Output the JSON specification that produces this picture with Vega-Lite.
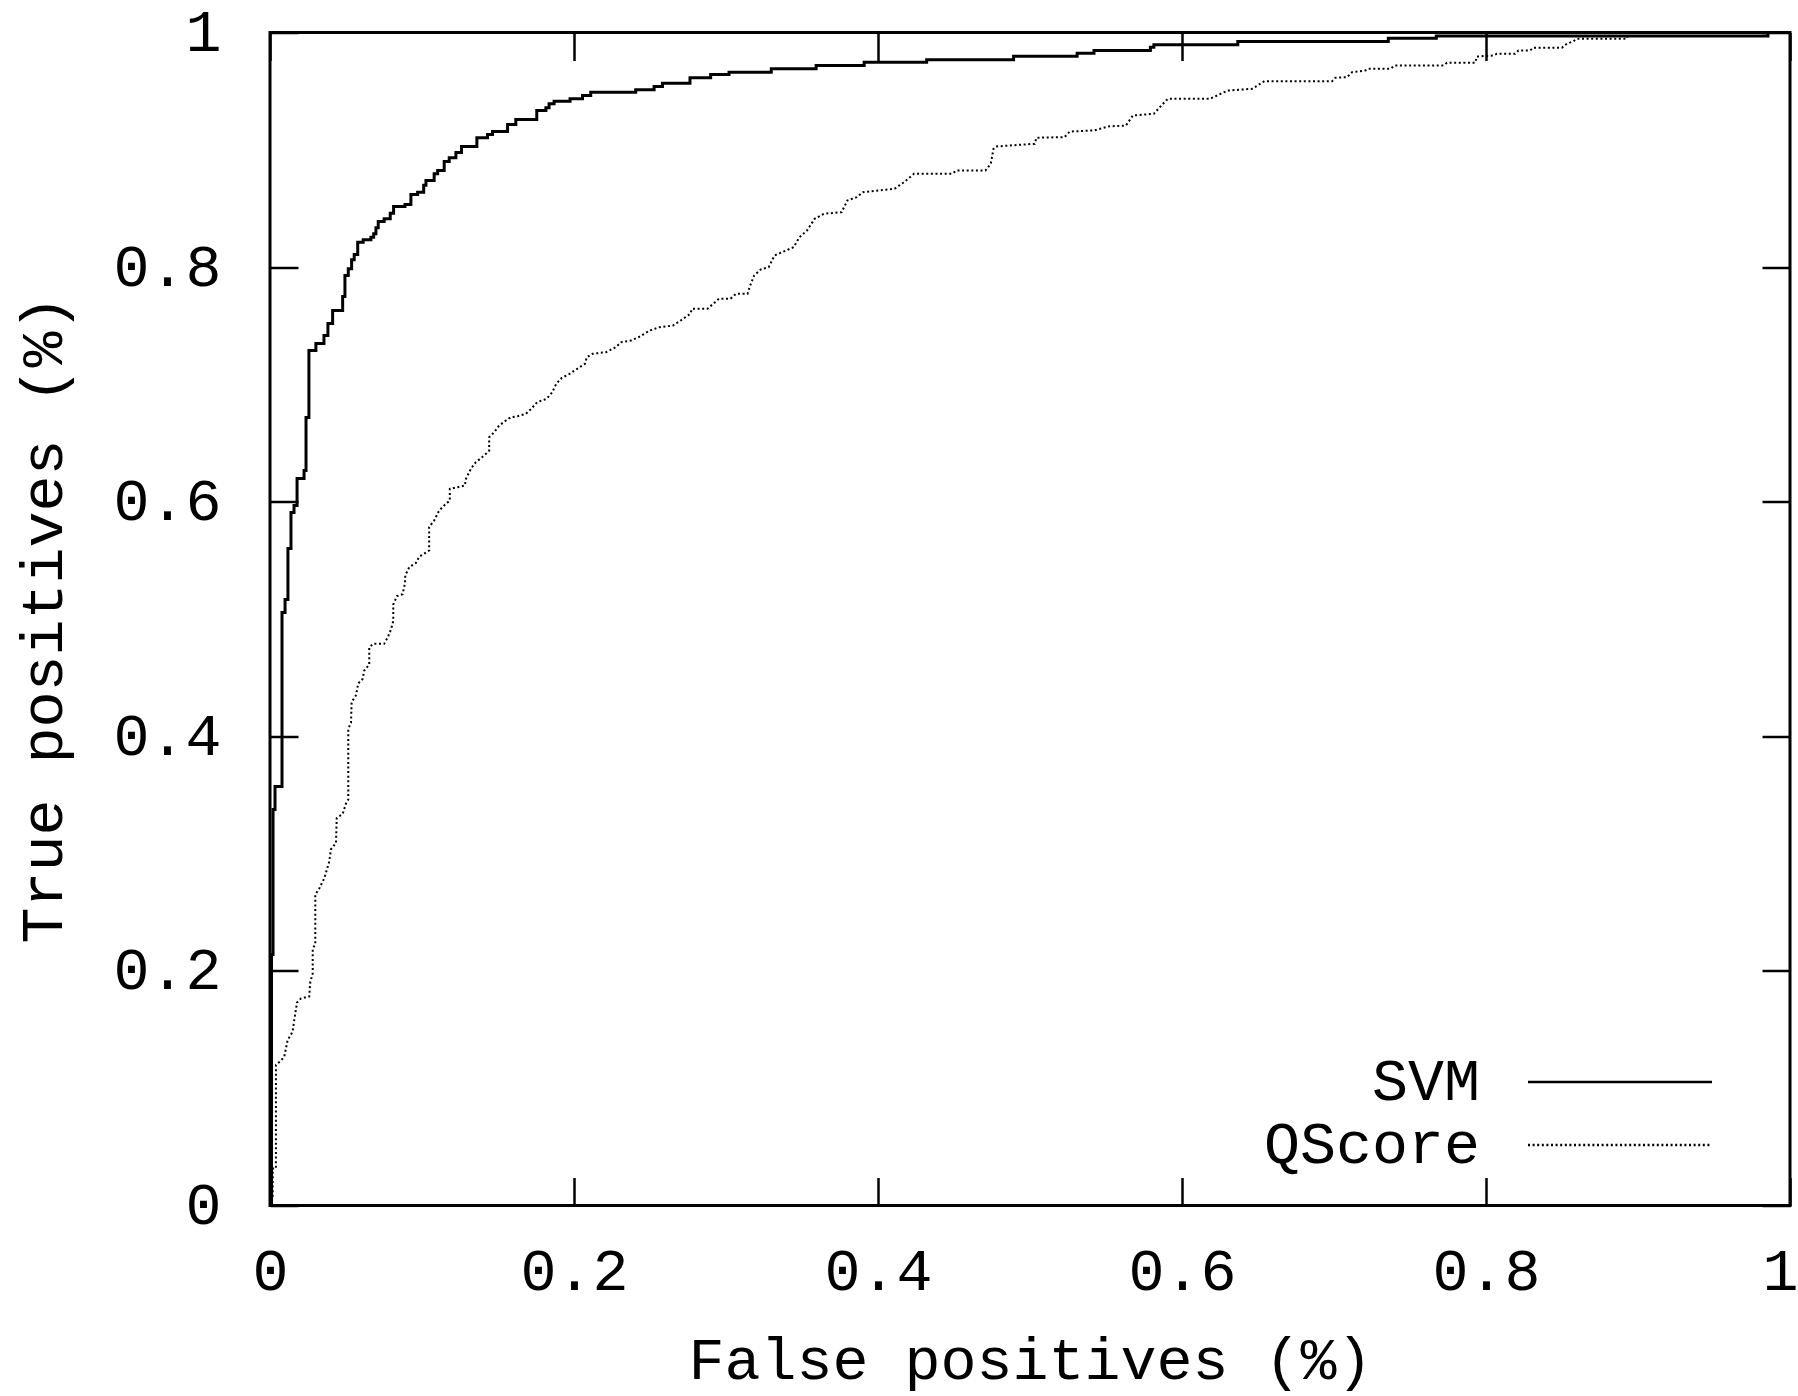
{
  "$schema": "https://vega.github.io/schema/vega-lite/v6.json",
  "width": 1520,
  "height": 1173,
  "autosize": {"type": "none"},
  "padding": {"left": 270, "top": 32.5, "right": 8, "bottom": 190.5},
  "background": "white",
  "config": {
    "view": {"stroke": "black", "strokeWidth": 3},
    "font": "Liberation Mono"
  },
  "data": {
    "values": [
      {"series": "SVM", "fp": 0, "tp": 0},
      {"series": "SVM", "fp": 0.001, "tp": 0.214},
      {"series": "SVM", "fp": 0.002, "tp": 0.3376},
      {"series": "SVM", "fp": 0.0033, "tp": 0.3572},
      {"series": "SVM", "fp": 0.0079, "tp": 0.5055},
      {"series": "SVM", "fp": 0.0099, "tp": 0.5166},
      {"series": "SVM", "fp": 0.0118, "tp": 0.5601},
      {"series": "SVM", "fp": 0.0138, "tp": 0.5908},
      {"series": "SVM", "fp": 0.0158, "tp": 0.5968},
      {"series": "SVM", "fp": 0.0178, "tp": 0.6198},
      {"series": "SVM", "fp": 0.0224, "tp": 0.6266},
      {"series": "SVM", "fp": 0.0237, "tp": 0.6718},
      {"series": "SVM", "fp": 0.0256, "tp": 0.7289},
      {"series": "SVM", "fp": 0.0302, "tp": 0.7349},
      {"series": "SVM", "fp": 0.0355, "tp": 0.7417},
      {"series": "SVM", "fp": 0.0381, "tp": 0.7519},
      {"series": "SVM", "fp": 0.0412, "tp": 0.763},
      {"series": "SVM", "fp": 0.0478, "tp": 0.7749},
      {"series": "SVM", "fp": 0.0493, "tp": 0.7928},
      {"series": "SVM", "fp": 0.0515, "tp": 0.7986},
      {"series": "SVM", "fp": 0.0537, "tp": 0.8062},
      {"series": "SVM", "fp": 0.0554, "tp": 0.8107},
      {"series": "SVM", "fp": 0.0577, "tp": 0.8212},
      {"series": "SVM", "fp": 0.0613, "tp": 0.8233},
      {"series": "SVM", "fp": 0.0664, "tp": 0.8255},
      {"series": "SVM", "fp": 0.0682, "tp": 0.8284},
      {"series": "SVM", "fp": 0.0697, "tp": 0.8335},
      {"series": "SVM", "fp": 0.0712, "tp": 0.8389},
      {"series": "SVM", "fp": 0.0751, "tp": 0.8412},
      {"series": "SVM", "fp": 0.0791, "tp": 0.846},
      {"series": "SVM", "fp": 0.0813, "tp": 0.8517},
      {"series": "SVM", "fp": 0.0888, "tp": 0.8534},
      {"series": "SVM", "fp": 0.0927, "tp": 0.8619},
      {"series": "SVM", "fp": 0.0971, "tp": 0.8639},
      {"series": "SVM", "fp": 0.1011, "tp": 0.8698},
      {"series": "SVM", "fp": 0.1026, "tp": 0.8738},
      {"series": "SVM", "fp": 0.108, "tp": 0.8795},
      {"series": "SVM", "fp": 0.1103, "tp": 0.8824},
      {"series": "SVM", "fp": 0.1146, "tp": 0.89},
      {"series": "SVM", "fp": 0.1179, "tp": 0.8932},
      {"series": "SVM", "fp": 0.1223, "tp": 0.8977},
      {"series": "SVM", "fp": 0.126, "tp": 0.9028},
      {"series": "SVM", "fp": 0.1361, "tp": 0.9102},
      {"series": "SVM", "fp": 0.1431, "tp": 0.913},
      {"series": "SVM", "fp": 0.1464, "tp": 0.9156},
      {"series": "SVM", "fp": 0.1563, "tp": 0.9216},
      {"series": "SVM", "fp": 0.1617, "tp": 0.9258},
      {"series": "SVM", "fp": 0.1755, "tp": 0.9335},
      {"series": "SVM", "fp": 0.1815, "tp": 0.9358},
      {"series": "SVM", "fp": 0.1836, "tp": 0.9392},
      {"series": "SVM", "fp": 0.1869, "tp": 0.9414},
      {"series": "SVM", "fp": 0.1974, "tp": 0.9435},
      {"series": "SVM", "fp": 0.2056, "tp": 0.9463},
      {"series": "SVM", "fp": 0.211, "tp": 0.9491},
      {"series": "SVM", "fp": 0.2406, "tp": 0.9511},
      {"series": "SVM", "fp": 0.2527, "tp": 0.954},
      {"series": "SVM", "fp": 0.2582, "tp": 0.9568},
      {"series": "SVM", "fp": 0.2763, "tp": 0.9614},
      {"series": "SVM", "fp": 0.2899, "tp": 0.9642},
      {"series": "SVM", "fp": 0.302, "tp": 0.9662},
      {"series": "SVM", "fp": 0.3298, "tp": 0.9691},
      {"series": "SVM", "fp": 0.3593, "tp": 0.9719},
      {"series": "SVM", "fp": 0.3909, "tp": 0.9747},
      {"series": "SVM", "fp": 0.432, "tp": 0.9767},
      {"series": "SVM", "fp": 0.4892, "tp": 0.9798},
      {"series": "SVM", "fp": 0.531, "tp": 0.9824},
      {"series": "SVM", "fp": 0.5421, "tp": 0.9847},
      {"series": "SVM", "fp": 0.5792, "tp": 0.9875},
      {"series": "SVM", "fp": 0.5815, "tp": 0.9895},
      {"series": "SVM", "fp": 0.6367, "tp": 0.9923},
      {"series": "SVM", "fp": 0.7357, "tp": 0.9951},
      {"series": "SVM", "fp": 0.7673, "tp": 0.997},
      {"series": "SVM", "fp": 0.9855, "tp": 1},
      {"series": "SVM", "fp": 1, "tp": 1},
      {"series": "QScore", "fp": 0, "tp": 0},
      {"series": "QScore", "fp": 0.0018, "tp": 0.0068},
      {"series": "QScore", "fp": 0.0018, "tp": 0.0315},
      {"series": "QScore", "fp": 0.0039, "tp": 0.0315},
      {"series": "QScore", "fp": 0.0039, "tp": 0.1198},
      {"series": "QScore", "fp": 0.0072, "tp": 0.1236},
      {"series": "QScore", "fp": 0.0094, "tp": 0.127},
      {"series": "QScore", "fp": 0.0116, "tp": 0.141},
      {"series": "QScore", "fp": 0.0149, "tp": 0.1483},
      {"series": "QScore", "fp": 0.016, "tp": 0.1586},
      {"series": "QScore", "fp": 0.0178, "tp": 0.1731},
      {"series": "QScore", "fp": 0.0204, "tp": 0.1765},
      {"series": "QScore", "fp": 0.0258, "tp": 0.1782},
      {"series": "QScore", "fp": 0.0265, "tp": 0.1905},
      {"series": "QScore", "fp": 0.0281, "tp": 0.1978},
      {"series": "QScore", "fp": 0.0281, "tp": 0.2191},
      {"series": "QScore", "fp": 0.0298, "tp": 0.2225},
      {"series": "QScore", "fp": 0.0298, "tp": 0.2651},
      {"series": "QScore", "fp": 0.0324, "tp": 0.2702},
      {"series": "QScore", "fp": 0.0357, "tp": 0.2789},
      {"series": "QScore", "fp": 0.039, "tp": 0.2933},
      {"series": "QScore", "fp": 0.0401, "tp": 0.3037},
      {"series": "QScore", "fp": 0.0434, "tp": 0.309},
      {"series": "QScore", "fp": 0.0439, "tp": 0.3303},
      {"series": "QScore", "fp": 0.0478, "tp": 0.3338},
      {"series": "QScore", "fp": 0.05, "tp": 0.3427},
      {"series": "QScore", "fp": 0.0515, "tp": 0.3461},
      {"series": "QScore", "fp": 0.0515, "tp": 0.4063},
      {"series": "QScore", "fp": 0.0533, "tp": 0.4118},
      {"series": "QScore", "fp": 0.0537, "tp": 0.4292},
      {"series": "QScore", "fp": 0.0565, "tp": 0.4348},
      {"series": "QScore", "fp": 0.0581, "tp": 0.4452},
      {"series": "QScore", "fp": 0.0609, "tp": 0.4488},
      {"series": "QScore", "fp": 0.062, "tp": 0.4561},
      {"series": "QScore", "fp": 0.0653, "tp": 0.4612},
      {"series": "QScore", "fp": 0.0653, "tp": 0.4753},
      {"series": "QScore", "fp": 0.0675, "tp": 0.4788},
      {"series": "QScore", "fp": 0.0751, "tp": 0.4788},
      {"series": "QScore", "fp": 0.0774, "tp": 0.4842},
      {"series": "QScore", "fp": 0.0796, "tp": 0.4911},
      {"series": "QScore", "fp": 0.0811, "tp": 0.4983},
      {"series": "QScore", "fp": 0.0811, "tp": 0.5124},
      {"series": "QScore", "fp": 0.0835, "tp": 0.5195},
      {"series": "QScore", "fp": 0.0872, "tp": 0.5212},
      {"series": "QScore", "fp": 0.0888, "tp": 0.5303},
      {"series": "QScore", "fp": 0.089, "tp": 0.5371},
      {"series": "QScore", "fp": 0.0916, "tp": 0.5442},
      {"series": "QScore", "fp": 0.096, "tp": 0.5478},
      {"series": "QScore", "fp": 0.0982, "tp": 0.5531},
      {"series": "QScore", "fp": 0.1047, "tp": 0.5584},
      {"series": "QScore", "fp": 0.1047, "tp": 0.5783},
      {"series": "QScore", "fp": 0.108, "tp": 0.584},
      {"series": "QScore", "fp": 0.1113, "tp": 0.5925},
      {"series": "QScore", "fp": 0.1146, "tp": 0.5968},
      {"series": "QScore", "fp": 0.1183, "tp": 0.601},
      {"series": "QScore", "fp": 0.1183, "tp": 0.611},
      {"series": "QScore", "fp": 0.1234, "tp": 0.6124},
      {"series": "QScore", "fp": 0.1282, "tp": 0.6138},
      {"series": "QScore", "fp": 0.1289, "tp": 0.6195},
      {"series": "QScore", "fp": 0.1322, "tp": 0.6281},
      {"series": "QScore", "fp": 0.1354, "tp": 0.6337},
      {"series": "QScore", "fp": 0.1409, "tp": 0.6394},
      {"series": "QScore", "fp": 0.1442, "tp": 0.6436},
      {"series": "QScore", "fp": 0.1442, "tp": 0.655},
      {"series": "QScore", "fp": 0.1475, "tp": 0.6592},
      {"series": "QScore", "fp": 0.1508, "tp": 0.665},
      {"series": "QScore", "fp": 0.1552, "tp": 0.6692},
      {"series": "QScore", "fp": 0.1584, "tp": 0.672},
      {"series": "QScore", "fp": 0.1629, "tp": 0.6729},
      {"series": "QScore", "fp": 0.1683, "tp": 0.6749},
      {"series": "QScore", "fp": 0.1719, "tp": 0.6792},
      {"series": "QScore", "fp": 0.1757, "tp": 0.6848},
      {"series": "QScore", "fp": 0.182, "tp": 0.6877},
      {"series": "QScore", "fp": 0.1857, "tp": 0.6933},
      {"series": "QScore", "fp": 0.1883, "tp": 0.7005},
      {"series": "QScore", "fp": 0.192, "tp": 0.7056},
      {"series": "QScore", "fp": 0.1971, "tp": 0.709},
      {"series": "QScore", "fp": 0.2021, "tp": 0.7133},
      {"series": "QScore", "fp": 0.2072, "tp": 0.7176},
      {"series": "QScore", "fp": 0.2084, "tp": 0.7232},
      {"series": "QScore", "fp": 0.2122, "tp": 0.7261},
      {"series": "QScore", "fp": 0.221, "tp": 0.7274},
      {"series": "QScore", "fp": 0.2274, "tp": 0.7317},
      {"series": "QScore", "fp": 0.2311, "tp": 0.736},
      {"series": "QScore", "fp": 0.2374, "tp": 0.7374},
      {"series": "QScore", "fp": 0.2424, "tp": 0.7402},
      {"series": "QScore", "fp": 0.25, "tp": 0.746},
      {"series": "QScore", "fp": 0.2563, "tp": 0.7488},
      {"series": "QScore", "fp": 0.2651, "tp": 0.7502},
      {"series": "QScore", "fp": 0.2702, "tp": 0.7545},
      {"series": "QScore", "fp": 0.2765, "tp": 0.7602},
      {"series": "QScore", "fp": 0.2777, "tp": 0.7645},
      {"series": "QScore", "fp": 0.2878, "tp": 0.7645},
      {"series": "QScore", "fp": 0.2928, "tp": 0.7701},
      {"series": "QScore", "fp": 0.2953, "tp": 0.773},
      {"series": "QScore", "fp": 0.3029, "tp": 0.773},
      {"series": "QScore", "fp": 0.3066, "tp": 0.7772},
      {"series": "QScore", "fp": 0.3142, "tp": 0.7772},
      {"series": "QScore", "fp": 0.3155, "tp": 0.7829},
      {"series": "QScore", "fp": 0.3185, "tp": 0.7928},
      {"series": "QScore", "fp": 0.323, "tp": 0.7981},
      {"series": "QScore", "fp": 0.3281, "tp": 0.8},
      {"series": "QScore", "fp": 0.3319, "tp": 0.8099},
      {"series": "QScore", "fp": 0.3369, "tp": 0.8127},
      {"series": "QScore", "fp": 0.3445, "tp": 0.817},
      {"series": "QScore", "fp": 0.3483, "tp": 0.8255},
      {"series": "QScore", "fp": 0.3533, "tp": 0.8312},
      {"series": "QScore", "fp": 0.3583, "tp": 0.8412},
      {"series": "QScore", "fp": 0.3646, "tp": 0.8455},
      {"series": "QScore", "fp": 0.3761, "tp": 0.8468},
      {"series": "QScore", "fp": 0.3798, "tp": 0.8568},
      {"series": "QScore", "fp": 0.386, "tp": 0.8596},
      {"series": "QScore", "fp": 0.3901, "tp": 0.8639},
      {"series": "QScore", "fp": 0.4109, "tp": 0.8668},
      {"series": "QScore", "fp": 0.4168, "tp": 0.8721},
      {"series": "QScore", "fp": 0.4237, "tp": 0.8795},
      {"series": "QScore", "fp": 0.4484, "tp": 0.8795},
      {"series": "QScore", "fp": 0.452, "tp": 0.8824},
      {"series": "QScore", "fp": 0.4707, "tp": 0.8824},
      {"series": "QScore", "fp": 0.4742, "tp": 0.8881},
      {"series": "QScore", "fp": 0.476, "tp": 0.9009},
      {"series": "QScore", "fp": 0.4777, "tp": 0.9028},
      {"series": "QScore", "fp": 0.4869, "tp": 0.9037},
      {"series": "QScore", "fp": 0.5031, "tp": 0.9051},
      {"series": "QScore", "fp": 0.5043, "tp": 0.9103},
      {"series": "QScore", "fp": 0.5227, "tp": 0.9108},
      {"series": "QScore", "fp": 0.5262, "tp": 0.9156},
      {"series": "QScore", "fp": 0.5423, "tp": 0.9165},
      {"series": "QScore", "fp": 0.5516, "tp": 0.9199},
      {"series": "QScore", "fp": 0.5631, "tp": 0.9207},
      {"series": "QScore", "fp": 0.5677, "tp": 0.9292},
      {"series": "QScore", "fp": 0.5815, "tp": 0.9307},
      {"series": "QScore", "fp": 0.585, "tp": 0.9358},
      {"series": "QScore", "fp": 0.5907, "tp": 0.9435},
      {"series": "QScore", "fp": 0.6184, "tp": 0.9435},
      {"series": "QScore", "fp": 0.6231, "tp": 0.9463},
      {"series": "QScore", "fp": 0.63, "tp": 0.9505},
      {"series": "QScore", "fp": 0.6462, "tp": 0.952},
      {"series": "QScore", "fp": 0.6542, "tp": 0.9585},
      {"series": "QScore", "fp": 0.6987, "tp": 0.9585},
      {"series": "QScore", "fp": 0.7009, "tp": 0.9614},
      {"series": "QScore", "fp": 0.7086, "tp": 0.9619},
      {"series": "QScore", "fp": 0.7119, "tp": 0.9662},
      {"series": "QScore", "fp": 0.7206, "tp": 0.9676},
      {"series": "QScore", "fp": 0.7228, "tp": 0.9691},
      {"series": "QScore", "fp": 0.737, "tp": 0.9691},
      {"series": "QScore", "fp": 0.7403, "tp": 0.9719},
      {"series": "QScore", "fp": 0.7721, "tp": 0.9719},
      {"series": "QScore", "fp": 0.7743, "tp": 0.9742},
      {"series": "QScore", "fp": 0.7929, "tp": 0.9742},
      {"series": "QScore", "fp": 0.794, "tp": 0.9795},
      {"series": "QScore", "fp": 0.8049, "tp": 0.9804},
      {"series": "QScore", "fp": 0.8072, "tp": 0.9819},
      {"series": "QScore", "fp": 0.8192, "tp": 0.9819},
      {"series": "QScore", "fp": 0.8214, "tp": 0.9847},
      {"series": "QScore", "fp": 0.8291, "tp": 0.9847},
      {"series": "QScore", "fp": 0.8312, "tp": 0.987},
      {"series": "QScore", "fp": 0.8499, "tp": 0.987},
      {"series": "QScore", "fp": 0.8532, "tp": 0.9904},
      {"series": "QScore", "fp": 0.8575, "tp": 0.9926},
      {"series": "QScore", "fp": 0.8597, "tp": 0.9946},
      {"series": "QScore", "fp": 0.8926, "tp": 0.9946},
      {"series": "QScore", "fp": 0.8935, "tp": 1},
      {"series": "QScore", "fp": 1, "tp": 1}
    ]
  },
  "layer": [
    {
      "transform": [{"filter": "datum.series === 'SVM'"}],
      "mark": {"type": "line", "interpolate": "step-after", "color": "black", "strokeWidth": 3, "strokeCap": "butt"},
      "encoding": {
        "x": {
          "field": "fp", "type": "quantitative",
          "scale": {"domain": [0, 1], "nice": false, "zero": false},
          "axis": {
            "orient": "bottom", "values": [0, 0.2, 0.4, 0.6, 0.8, 1], "format": "~g",
            "title": "False positives (%)", "domain": false, "grid": false,
            "tickSize": -28, "tickWidth": 2.5, "tickColor": "black",
            "labelFont": "Liberation Mono", "labelFontSize": 60, "labelColor": "black",
            "labelPadding": 65, "labelFlush": false, "labelOverlap": false, "labelBaseline": "top",
            "labelOffset": {"condition": {"test": "datum.value === 1", "value": -10}, "value": 0},
            "titleFont": "Liberation Mono", "titleFontSize": 60, "titleFontWeight": "normal",
            "titleColor": "black", "titleY": 173, "titleBaseline": "alphabetic"
          }
        },
        "y": {
          "field": "tp", "type": "quantitative",
          "scale": {"domain": [0, 1], "nice": false, "zero": false},
          "axis": {
            "orient": "left", "values": [0, 0.2, 0.4, 0.6, 0.8, 1], "format": "~g",
            "title": "True positives (%)", "domain": false, "grid": false,
            "tickSize": -28, "tickWidth": 2.5, "tickColor": "black",
            "labelFont": "Liberation Mono", "labelFontSize": 60, "labelColor": "black",
            "labelPadding": 77, "labelFlush": false, "labelOverlap": false,
            "labelAlign": "right", "labelBaseline": "middle",
            "titleFont": "Liberation Mono", "titleFontSize": 60, "titleFontWeight": "normal",
            "titleColor": "black", "titleX": -209, "titleBaseline": "alphabetic", "titleAngle": -90
          }
        },
        "strokeDash": {
          "field": "series", "type": "nominal",
          "scale": {"domain": ["SVM", "QScore"], "range": [[1, 0], [2, 2.6]]},
          "legend": {
            "orient": "none", "legendX": 1320, "legendY": 1019.5, "title": null,
            "symbolType": "M-9,0H9", "symbolSize": 418, "symbolStrokeColor": "black",
            "symbolStrokeWidth": 2.5, "symbolFillColor": "transparent",
            "labelAlign": "right", "labelBaseline": "middle", "labelOffset": -170,
            "labelFont": "Liberation Mono", "labelFontSize": 60, "labelColor": "black",
            "labelLimit": 0, "rowPadding": 3, "padding": 0
          }
        }
      }
    },
    {
      "transform": [{"filter": "datum.series === 'QScore'"}],
      "mark": {"type": "line", "color": "black", "strokeWidth": 2, "strokeCap": "butt"},
      "encoding": {
        "x": {"field": "fp", "type": "quantitative", "axis": null},
        "y": {"field": "tp", "type": "quantitative", "axis": null},
        "strokeDash": {"field": "series", "type": "nominal"}
      }
    },
    {
      "mark": {"type": "point", "opacity": 0},
      "encoding": {
        "x": {
          "field": "fp", "type": "quantitative",
          "axis": {"orient": "top", "values": [0, 0.2, 0.4, 0.6, 0.8, 1], "labels": false, "title": null,
                   "domain": false, "grid": false, "tickSize": -28, "tickWidth": 2.5, "tickColor": "black"}
        },
        "y": {
          "field": "tp", "type": "quantitative",
          "axis": {"orient": "right", "values": [0, 0.2, 0.4, 0.6, 0.8, 1], "labels": false, "title": null,
                   "domain": false, "grid": false, "tickSize": -28, "tickWidth": 2.5, "tickColor": "black"}
        }
      }
    }
  ],
  "resolve": {"axis": {"x": "independent", "y": "independent"}}
}
